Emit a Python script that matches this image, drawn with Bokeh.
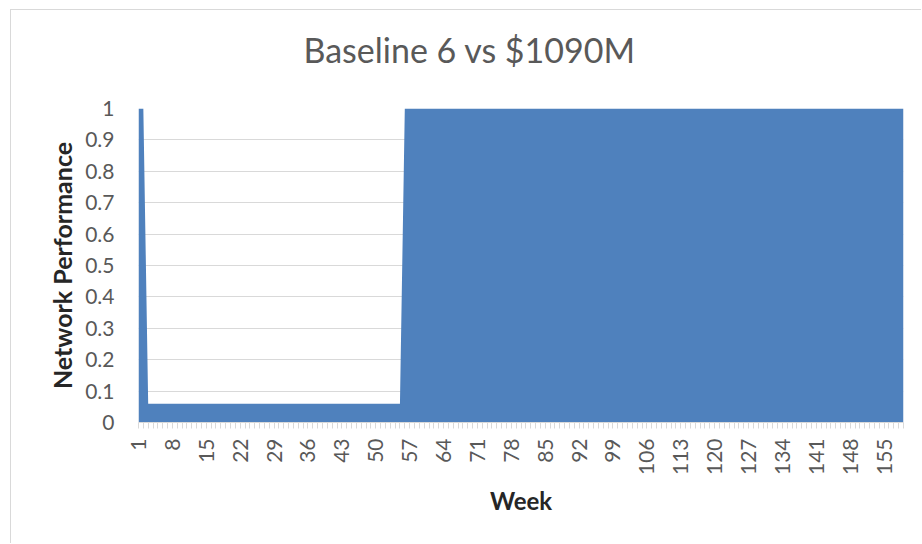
import math
from bokeh.plotting import figure
from bokeh.models import Range1d, FixedTicker, Title
from bokeh.embed import file_html
from bokeh.resources import INLINE

# Weekly network performance: weeks 1-159
weeks = list(range(1, 160))
performance = (
    [1.0, 1.0]
    + [0.06] * 53      # weeks 3-55
    + [1.0] * 104      # weeks 56-159
)

x_tick_weeks = list(range(1, 160, 7))
y_ticks = [0, 0.1, 0.2, 0.3, 0.4, 0.5, 0.6, 0.7, 0.8, 0.9, 1]
y_tick_labels = ["0", "0.1", "0.2", "0.3", "0.4", "0.5", "0.6", "0.7", "0.8", "0.9", "1"]

title_text = "Baseline 6 vs $1090M"
x_title = "Week"
y_title = "Network Performance"

FONT = "Lato"
BLUE = "#4f81bd"
GRID = "#d9d9d9"
TICK_TEXT = "#595959"
AXIS_TEXT = "#262626"

p = figure(
    width=911, height=534,
    x_range=Range1d(1, 159), y_range=Range1d(0, 1),
    output_backend="svg", toolbar_location=None, title=None,
    min_border_left=127, min_border_right=19,
    min_border_top=98, min_border_bottom=122,
    background_fill_color="white", border_fill_color="white",
)
p.margin = (9, 0, 0, 10)
p.styles = {"border-left": "1px solid #d9d9d9", "border-top": "1px solid #d9d9d9"}
p.outline_line_color = None

# filled area
p.varea(x=weeks, y1=0, y2=performance, fill_color=BLUE)

# grid
p.xgrid.grid_line_color = None
p.ygrid.ticker = FixedTicker(ticks=y_ticks)
p.ygrid.grid_line_color = GRID
p.ygrid.grid_line_width = 1
p.ygrid.level = "underlay"

# x axis: tick at every week, label every 7th
xa = p.xaxis[0]
xa.ticker = FixedTicker(ticks=weeks)
xa.major_label_overrides = {w: (str(w) if w in x_tick_weeks else "") for w in weeks}
xa.major_label_orientation = math.pi / 2
xa.major_label_text_font = FONT
xa.major_label_text_font_size = "21px"
xa.major_label_text_color = TICK_TEXT
xa.major_label_standoff = 10
xa.major_tick_in = 0
xa.major_tick_out = 6
xa.major_tick_line_color = GRID
xa.minor_tick_line_color = None
xa.axis_line_color = GRID
xa.axis_label = x_title
xa.axis_label_text_font = FONT
xa.axis_label_text_font_style = "bold"
xa.axis_label_text_font_size = "24px"
xa.axis_label_text_color = AXIS_TEXT
xa.axis_label_standoff = 8

# y axis
ya = p.yaxis[0]
ya.ticker = FixedTicker(ticks=y_ticks)
ya.major_label_overrides = dict(zip(y_ticks, y_tick_labels))
ya.major_label_text_font = FONT
ya.major_label_text_font_size = "21px"
ya.major_label_text_color = TICK_TEXT
ya.major_label_standoff = 24
ya.major_tick_in = 0
ya.major_tick_out = 0
ya.major_tick_line_color = None
ya.minor_tick_line_color = None
ya.axis_line_color = None
ya.axis_label = y_title
ya.axis_label_text_font = FONT
ya.axis_label_text_font_style = "bold"
ya.axis_label_text_font_size = "25px"
ya.axis_label_text_color = AXIS_TEXT
ya.axis_label_standoff = 5

# chart title, kept clear of the plot area by an empty spacer title
spacer = Title(text=" ", text_font_size="1px", standoff=36)
p.add_layout(spacer, "above")
p.add_layout(Title(text=title_text, align="left", offset=165,
                   text_font=FONT, text_font_size="34px",
                   text_font_style="normal", text_color=TICK_TEXT,
                   standoff=0), "above")

open("out.html", "w").write(file_html(p, INLINE))
